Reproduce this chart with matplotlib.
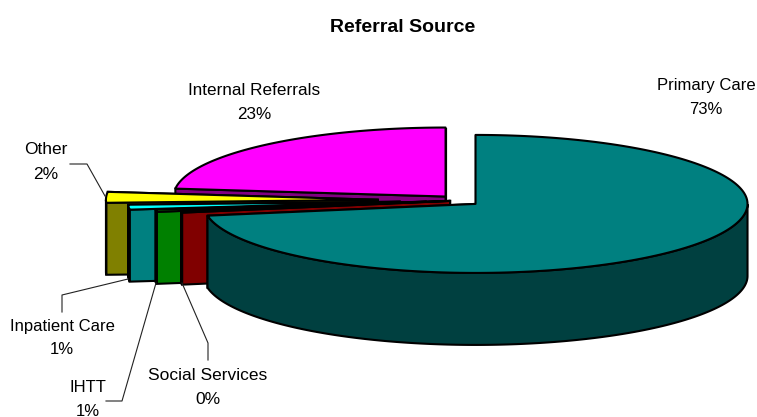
import matplotlib
matplotlib.use('Agg')
import matplotlib.pyplot as plt
from matplotlib.patches import Polygon
import numpy as np

plt.rcParams['font.family'] = ['Liberation Sans', 'DejaVu Sans']

slices = ['Primary Care', 'Social Services', 'IHTT', 'Inpatient Care', 'Other', 'Internal Referrals']
shares = [72.28, 0.36, 0.53, 1.14, 2.53, 23.17]
pct_labels = ['73%', '0%', '1%', '1%', '2%', '23%']
explode = [0.077, 0.035, 0.125, 0.22, 0.30, 0.077]
top_cols = ['#008080', '#FF0000', '#00FF00', '#00FFFF', '#FFFF00', '#FF00FF']
side_cols = ['#004040', '#800000', '#008000', '#008080', '#808000', '#800080']
label_pos = [(706, 85), (208, 375), (88, 387), (62, 326), (46, 150), (254, 90)]
label_size = [12, 12.5, 12, 12, 12.5, 12.3]

# pie geometry in pixels
cx, cy = 459.5, 200.5
rx, ry = 272, 69
depth = 72
edge = 1.5

fig = plt.figure(figsize=(7.57, 4.17), dpi=100)
ax = fig.add_axes([0, 0, 1, 1])
ax.set_xlim(0, 757)
ax.set_ylim(417, 0)
ax.axis('off')

ends = np.cumsum(shares) / np.sum(shares) * 2 * np.pi
starts = np.concatenate([[0], ends[:-1]])


def rim(a0, a1, x0, y0):
    t = np.linspace(a0, a1, 200)
    return np.column_stack([x0 + rx * np.sin(t), y0 - ry * np.cos(t)])


# painter's order: back of the pie first, primary care last
for i in [5, 4, 3, 2, 1, 0]:
    mid = (starts[i] + ends[i]) / 2
    x0 = cx + explode[i] * rx * np.sin(mid)
    y0 = cy - explode[i] * ry * np.cos(mid)
    arc = rim(starts[i], ends[i], x0, y0)
    down = np.array([0, depth])
    c0 = np.array([x0, y0])
    # radial faces, hidden one first
    for p in [arc[-1], arc[0]]:
        ax.add_patch(Polygon([c0, p, p + down, c0 + down], closed=True, fc=side_cols[i], ec='k', lw=edge))
    # outer wall, only the part facing the viewer
    t = np.linspace(starts[i], ends[i], 200)
    front = t[np.cos(t) < 0]
    if len(front):
        wall = rim(front[0], front[-1], x0, y0)
        ax.add_patch(Polygon(np.vstack([wall, (wall + down)[::-1]]), closed=True, fc=side_cols[i], ec='k', lw=edge))
    ax.add_patch(Polygon(np.vstack([c0, arc]), closed=True, fc=top_cols[i], ec='k', lw=edge, joinstyle='round'))

# leader lines
leaders = [
    ([208, 208, 182], [360, 343, 283]),
    ([106, 122, 156], [401, 401, 283]),
    ([62, 62, 128], [312, 295, 279]),
    ([70, 87, 105], [164, 164, 196]),
]
for lx, ly in leaders:
    ax.plot(lx, ly, color='#222222', lw=0.8)

ax.text(403, 27, 'Referral Source', ha='center', va='center', fontsize=14, fontweight='bold')
for name, pct, (lx, ly), fs in zip(slices, pct_labels, label_pos, label_size):
    ax.text(lx, ly, name, ha='center', va='center', fontsize=fs)
    ax.text(lx, ly + 24, pct, ha='center', va='center', fontsize=fs)

fig.savefig('out.png', dpi=100)
